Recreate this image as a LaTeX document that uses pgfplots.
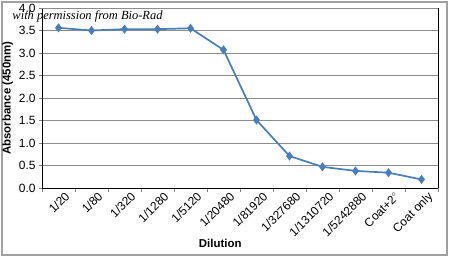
\documentclass[border=0pt]{standalone}
\usepackage{pgfplots}
\pgfplotsset{compat=1.18}
\usepackage{fontspec}
\setmainfont{Liberation Sans}
\newfontfamily\permfont{Liberation Serif}
\definecolor{linecol}{HTML}{4A7EBB}
\definecolor{gridcol}{HTML}{8C8C8C}
\definecolor{framecol}{HTML}{A0A0A0}
\begin{document}
\begin{tikzpicture}
\useasboundingbox (-42bp,-70bp) rectangle (408bp,188bp);
\draw[framecol, line width=1.5bp] (-40bp,-67bp) rectangle (405bp,186bp);
\begin{axis}[
  at={(0,0)}, anchor=south west,
  scale only axis, width=396bp, height=180bp,
  xmin=-0.5, xmax=11.5, ymin=0, ymax=4,
  xtick={0,...,11},
  xticklabels={1/20,1/80,1/320,1/1280,1/5120,1/20480,1/81920,1/327680,1/1310720,1/5242880,Coat+2$^{\circ}$,Coat only},
  x tick label style={rotate=45, anchor=north east, font=\fontsize{12}{13}\selectfont, inner sep=1pt, xshift=5bp, yshift=-3bp},
  major x tick style={draw=none},
  minor xtick={-0.5,0.5,...,11.5},
  minor tick length=4bp,
  ytick={0,0.5,...,4},
  yticklabels={0.0,0.5,1.0,1.5,2.0,2.5,3.0,3.5,4.0},
  y tick label style={font=\fontsize{12}{13}\selectfont},
  major tick length=3bp,
  tick align=outside, tick pos=left,
  ymajorgrids, grid style={gridcol, line width=0.9bp},
  axis line style={black, line width=0.8bp},
  axis x line*=bottom, axis y line*=left,
  /pgf/number format/assume math mode=true,
  xlabel={\textbf{Dilution}},
  xlabel style={font=\fontsize{11.5}{12}\selectfont, at={(axis description cs:0.45,0)}, yshift=-48bp, anchor=north},
  ylabel={\textbf{Absorbance (450nm)}},
  ylabel style={font=\fontsize{11.5}{12}\selectfont, yshift=-1bp},
  clip=false,
]
\addplot[linecol, line width=1.7bp, mark=diamond*, mark size=3.2bp, mark options={fill=linecol, draw=linecol}]
coordinates {
(0,3.56) (1,3.50) (2,3.53) (3,3.53) (4,3.55) (5,3.07) (6,1.51) (7,0.71) (8,0.47) (9,0.38) (10,0.34) (11,0.19)
};
\draw[black, line width=0.8bp] (axis cs:11.5,0) -- (axis cs:11.5,4);
\draw[gridcol, line width=0.9bp] (axis cs:-0.5,4) -- (axis cs:11.5,4);
\node[anchor=west, font=\permfont\itshape\fontsize{12.5}{13}\selectfont, inner sep=0pt] at (axis cs:-1.4,3.82) {with permission from Bio-Rad};
\end{axis}
\end{tikzpicture}
\end{document}
